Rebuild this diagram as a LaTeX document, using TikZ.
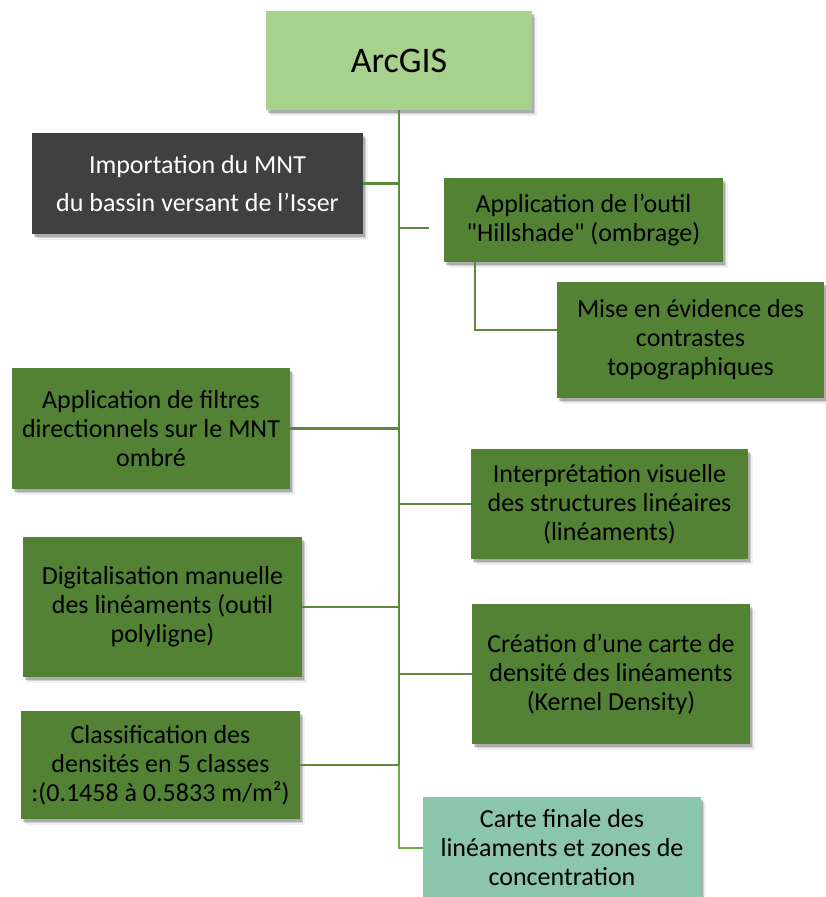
\documentclass[tikz,border=0pt]{standalone}
\usepackage{fontspec}
\setmainfont{Carlito}[Ligatures=TeXOff]
\usetikzlibrary{shadows,calc}
\definecolor{lightgr}{HTML}{A9D18E}
\definecolor{darkbox}{HTML}{404040}
\definecolor{midgr}{HTML}{548235}
\definecolor{tealbox}{HTML}{8BC5AB}
\definecolor{linegr}{HTML}{5A8B3B}
\definecolor{linegr2}{HTML}{70AD47}
\tikzset{
  box/.style={rectangle, inner sep=0pt, align=center, text=black,
    font=\fontsize{26}{29}\selectfont,
    drop shadow={shadow xshift=4.5pt, shadow yshift=-5.5pt, opacity=0.06, fill=black},
    drop shadow={shadow xshift=3pt, shadow yshift=-4pt, opacity=0.12, fill=black},
    drop shadow={shadow xshift=1.5pt, shadow yshift=-2.5pt, opacity=0.18, fill=black}},
  conn/.style={draw=linegr, line width=2.6pt},
  conn2/.style={draw=linegr2, line width=2.6pt},
}
\begin{document}
\begin{tikzpicture}[x=1pt,y=-1pt]
\useasboundingbox[fill=white] (0,0) rectangle (825,897);
\node[box, fill=lightgr, minimum width=266pt, minimum height=99pt, font=\fontsize{36}{40}\selectfont] (arc) at (399,60.5) {ArcGIS};
\node[box, fill=darkbox, text=white, minimum width=331pt, minimum height=101pt, font=\fontsize{26}{38}\selectfont] (imp) at (197.5,183.5) {Importation du MNT\\du bassin versant de l’Isser};
\node[box, fill=midgr, minimum width=279pt, minimum height=84pt] (hill) at (583.5,220) {Application de l’outil\\"Hillshade" (ombrage)};
\node[box, fill=midgr, minimum width=267pt, minimum height=116pt] (mise) at (690.5,340) {Mise en évidence des\\contrastes\\topographiques};
\node[box, fill=midgr, minimum width=278pt, minimum height=121pt] (filt) at (151,428.5) {Application de filtres\\directionnels sur le MNT\\ombré};
\node[box, fill=midgr, minimum width=277pt, minimum height=110pt] (interp) at (609.5,504) {Interprétation visuelle\\des structures linéaires\\(linéaments)};
\node[box, fill=midgr, minimum width=279pt, minimum height=140pt] (digit) at (162.5,607) {Digitalisation manuelle\\des linéaments (outil\\polyligne)};
\node[box, fill=midgr, minimum width=278pt, minimum height=140pt] (creat) at (611,674) {Création d’une carte de\\densité des linéaments\\(Kernel Density)};
\node[box, fill=midgr, minimum width=279pt, minimum height=108pt] (classif) at (160.5,765) {Classification des\\densités en 5 classes\\:(0.1458 à 0.5833 m/m²)};
\node[box, fill=tealbox, minimum width=278pt, minimum height=102pt] (carte) at (562,848) {Carte finale des\\linéaments et zones de\\concentration};
% trunk
\draw[conn] (arc.south) -- (classif.east -| arc.south);
\draw[conn2] (classif.east -| arc.south) -- (carte.west -| arc.south) -- (carte.west);
% branches
\draw[conn] (imp.east) -- (imp.east -| arc.south);
\draw[conn] ($(hill.west -| arc.south)+(0,8)$) -- ($(hill.west)+(-15,8)$);
\coordinate (hb) at ($(hill.south west)+(31,0)$);
\draw[conn] (hb) -- (hb |- {$(mise.west)+(0,-10)$}) -- ($(mise.west)+(0,-10)$);
\draw[conn] (filt.east) -- (filt.east -| arc.south);
\draw[conn] (interp.west -| arc.south) -- (interp.west);
\draw[conn] (digit.east) -- (digit.east -| arc.south);
\draw[conn] (creat.west -| arc.south) -- (creat.west);
\draw[conn] (classif.east) -- (classif.east -| arc.south);
\end{tikzpicture}
\end{document}
